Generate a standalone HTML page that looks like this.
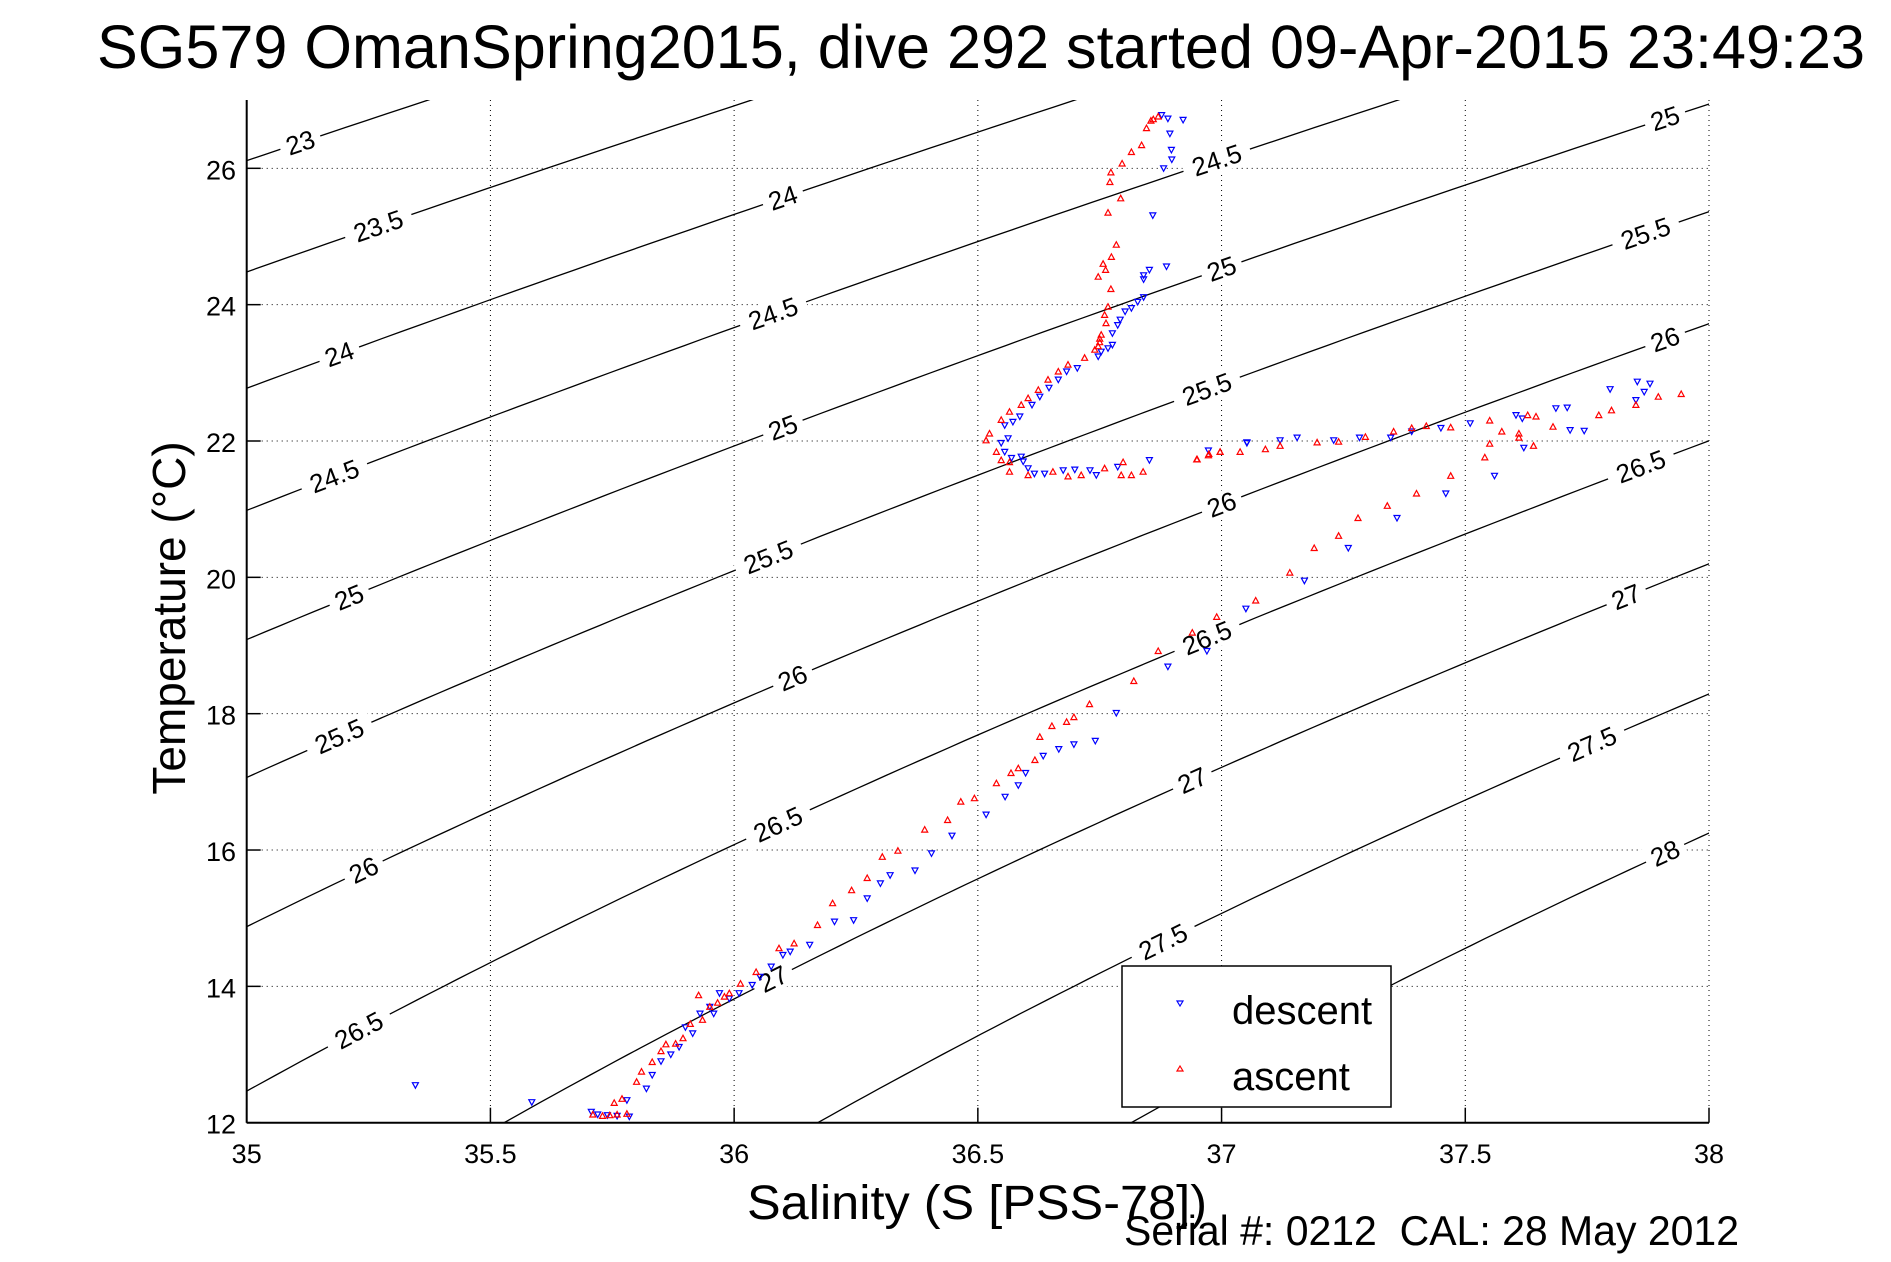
<!DOCTYPE html>
<html><head><meta charset="utf-8"><title>SG579 dive 292 T-S</title>
<style>
html,body{margin:0;padding:0;background:#fff;overflow:hidden;width:1891px;height:1262px;}
svg{display:block;font-family:"Liberation Sans",Arial,sans-serif;}
</style></head>
<body>
<svg id="chart" width="1891" height="1262" viewBox="0 0 1891 1262" xmlns="http://www.w3.org/2000/svg">
<rect x="0" y="0" width="1891" height="1262" fill="#fff"/>
<defs><clipPath id="plotclip"><rect x="246.7" y="100" width="1462.3" height="1022.7"/></clipPath></defs>
<text x="97" y="68" font-size="61" textLength="1768" lengthAdjust="spacingAndGlyphs">SG579 OmanSpring2015, dive 292 started 09-Apr-2015 23:49:23</text>
<g id="grid"></g>
<g id="contours" clip-path="url(#plotclip)"></g>
<g id="clabels"></g>
<g id="marks"></g>
<g id="axes"></g>
<text x="977" y="1219" font-size="48" textLength="460" lengthAdjust="spacingAndGlyphs" text-anchor="middle">Salinity (S [PSS-78])</text>
<text transform="translate(185,618) rotate(-90)" font-size="46" text-anchor="middle">Temperature (°C)</text>
<text x="1124" y="1245" font-size="42" textLength="615" lengthAdjust="spacingAndGlyphs" xml:space="preserve">Serial #: 0212  CAL: 28 May 2012</text>
<g>
<rect x="1122" y="966" width="269" height="141" fill="#fff" stroke="#000" stroke-width="1.5"/>
<polygon points="1177,1001 1183,1001 1180,1006" fill="none" stroke="#00f" stroke-width="1.2"/>
<text x="1232" y="1024" font-size="40">descent</text>
<polygon points="1177,1071 1183,1071 1180,1066" fill="none" stroke="#f00" stroke-width="1.2"/>
<text x="1232" y="1090" font-size="40">ascent</text>
</g>
</svg>
<script>
var NS="http://www.w3.org/2000/svg";
var xTicks=[35,35.5,36,36.5,37,37.5,38];
var xTickLabels=["35","35.5","36","36.5","37","37.5","38"];
var yTicks=[12,14,16,18,20,22,24,26];
var yTickLabels=["12","14","16","18","20","22","24","26"];
var sigmaLevels=[23,23.5,24,24.5,25,25.5,26,26.5,27,27.5,28];
var labelSigma=[23,23.5,24,24.5,25,25.5,26,26.5, 24,24.5,25,25.5,26,26.5,27, 24.5,25,25.5,26,26.5,27,27.5, 25,25.5,26,26.5,27,27.5,28];
var labelSal=[35.11,35.27,35.19,35.18,35.21,35.19,35.24,35.23, 36.10,36.08,36.10,36.07,36.12,36.09,36.08, 36.99,37.00,36.97,37.00,36.97,36.94,36.88, 37.91,37.87,37.91,37.86,37.83,37.76,37.91];
var descS=[35.346,35.585,35.707,35.78,35.832,35.887,35.915,35.958,35.99,36.01,36.037,36.053,36.076,36.10,36.115,36.155,36.206,36.245,36.273,36.30,36.32,36.371,36.405,36.447,36.517,36.556,36.583,36.598,36.634,36.666,36.697,36.741,36.784,36.89,36.97,37.05,37.17,37.26,37.36,37.46,37.56,37.62,
37.052,37.12,37.155,37.23,37.283,37.347,37.39,37.45,37.51,37.604,37.617,37.686,37.709,37.715,37.744,37.797,37.853,37.879,37.867,37.85,
36.877,36.890,36.921,36.894,36.897,36.898,36.881,36.859,36.887,36.852,36.840,36.840,36.840,36.828,36.815,36.802,36.792,36.787,36.776,36.776,36.767,36.753,36.747,36.704,36.682,36.665,36.646,36.627,36.611,36.586,36.572,36.555,36.562,36.548,36.555,36.569,36.589,36.593,36.603,36.616,36.637,36.675,36.699,36.730,36.743,36.787,36.852,36.973,37.052,35.72,35.74,35.76,35.785,35.82,35.85,35.87,35.90,35.93,35.95,35.97];
var descT=[12.55,12.30,12.16,12.33,12.70,13.11,13.31,13.60,13.82,13.90,14.02,14.14,14.29,14.46,14.51,14.61,14.95,14.97,15.29,15.51,15.63,15.70,15.95,16.21,16.52,16.78,16.95,17.13,17.38,17.48,17.55,17.60,18.01,18.69,18.92,19.54,19.95,20.43,20.87,21.23,21.49,21.90,
21.98,22.01,22.05,22.01,22.05,22.05,22.14,22.19,22.26,22.38,22.33,22.48,22.49,22.16,22.15,22.76,22.87,22.84,22.72,22.60,
26.78,26.73,26.71,26.51,26.27,26.13,26.00,25.31,24.56,24.51,24.43,24.37,24.11,24.04,23.95,23.90,23.78,23.70,23.58,23.41,23.36,23.31,23.24,23.07,23.02,22.90,22.78,22.65,22.53,22.36,22.28,22.23,22.04,21.97,21.84,21.75,21.77,21.70,21.60,21.52,21.52,21.57,21.58,21.57,21.50,21.62,21.72,21.86,21.97,12.12,12.11,12.10,12.09,12.5,12.9,13.0,13.4,13.6,13.7,13.9];
var ascS=[35.71,35.73,35.745,35.76,35.78,35.754,35.80,35.832,35.88,35.895,35.935,35.966,35.99,36.013,36.045,36.092,36.123,36.171,36.202,36.241,36.273,36.304,36.336,36.391,36.438,36.465,36.493,36.538,36.568,36.583,36.617,36.627,36.652,36.682,36.697,36.729,35.927,35.77,35.81,35.85,35.86,35.91,35.95,35.98,
36.82,36.87,36.94,36.99,37.07,37.14,37.19,37.24,37.28,37.34,37.40,37.47,37.54,37.61,
36.95,36.974,36.997,37.038,37.09,37.12,37.196,37.24,37.295,37.353,37.39,37.42,37.47,37.55,37.575,37.61,37.64,37.628,37.645,37.68,37.774,37.80,37.85,37.896,37.943,37.55,
36.87,36.846,36.836,36.815,36.796,36.773,36.771,36.793,36.767,36.784,36.774,36.757,36.762,36.747,36.773,36.767,36.760,36.763,36.753,36.747,36.740,36.719,36.685,36.665,36.644,36.624,36.603,36.589,36.565,36.548,36.524,36.517,36.538,36.548,36.565,36.565,36.603,36.654,36.685,36.712,36.760,36.798,36.794,36.815,36.839,36.949,36.973,36.997,36.86,36.855,36.75,36.75];
var ascT=[12.12,12.10,12.11,12.12,12.13,12.29,12.60,12.89,13.16,13.24,13.51,13.76,13.90,14.04,14.21,14.56,14.63,14.90,15.22,15.41,15.59,15.90,15.99,16.30,16.44,16.71,16.76,16.98,17.13,17.20,17.32,17.66,17.82,17.88,17.95,18.14,13.87,12.35,12.75,13.05,13.15,13.45,13.70,13.85,
18.48,18.92,19.19,19.42,19.66,20.07,20.43,20.61,20.87,21.05,21.23,21.49,21.76,22.11,
21.73,21.81,21.84,21.84,21.88,21.93,21.98,21.99,22.06,22.14,22.19,22.22,22.20,22.30,22.14,22.05,21.93,22.38,22.36,22.21,22.38,22.45,22.53,22.65,22.69,21.96,
26.76,26.59,26.34,26.24,26.07,25.94,25.80,25.56,25.35,24.88,24.70,24.60,24.51,24.41,24.23,23.97,23.85,23.73,23.56,23.39,23.34,23.22,23.12,23.02,22.90,22.75,22.63,22.53,22.43,22.31,22.11,22.01,21.84,21.72,21.69,21.55,21.50,21.55,21.48,21.50,21.60,21.69,21.50,21.50,21.55,21.73,21.79,21.84,26.72,26.70,23.45,23.50];

var X0=246.7,X1=1709,Y0=1122.7,Y1=100,SMIN=35,SMAX=38,TMIN=12,TMAX=12+(1122.7-100)/68.17;
function xs(s){return X0+(s-SMIN)/(SMAX-SMIN)*(X1-X0);}
function ys(t){return Y0-(t-TMIN)/(TMAX-TMIN)*(Y0-Y1);}
function sigma(S,T){
  var rw=999.842594+6.793952e-2*T-9.095290e-3*T*T+1.001685e-4*T*T*T-1.120083e-6*Math.pow(T,4)+6.536332e-9*Math.pow(T,5);
  var A=0.824493-4.0899e-3*T+7.6438e-5*T*T-8.2467e-7*T*T*T+5.3875e-9*Math.pow(T,4);
  var B=-5.72466e-3+1.0227e-4*T-1.6546e-6*T*T;
  return rw+A*S+B*Math.pow(S,1.5)+4.8314e-4*S*S-1000;
}
function solveS(sig,T){var S=35;for(var i=0;i<30;i++){var f=sigma(S,T)-sig;var d=(sigma(S+0.001,T)-sigma(S,T))/0.001;S-=f/d;}return S;}
function solveT(sig,S){var lo=0,hi=40;for(var i=0;i<60;i++){var m=(lo+hi)/2;if(sigma(S,m)>sig)lo=m;else hi=m;}return (lo+hi)/2;}
function mk(tag,attrs,parent){var e=document.createElementNS(NS,tag);for(var k in attrs)e.setAttribute(k,attrs[k]);parent.appendChild(e);return e;}

var grid=document.getElementById('grid');
xTicks.forEach(function(v,i){
  if(i===0)return;
  var l=mk('line',{x1:xs(v),x2:xs(v),y1:Y1,y2:Y0,stroke:'#000','stroke-width':1,'stroke-dasharray':'1,4'},grid);
  
  
});
yTicks.forEach(function(v,i){
  if(i===0)return;
  var l=mk('line',{x1:X0,x2:X1,y1:ys(v),y2:ys(v),stroke:'#000','stroke-width':1,'stroke-dasharray':'1,4'},grid);
  
  
});

var cg=document.getElementById('contours');
sigmaLevels.forEach(function(sg){
  var pts=[];
  for(var T=9;T<=28.5;T+=0.1){var S=solveS(sg,T);pts.push(xs(S).toFixed(1)+','+ys(T).toFixed(1));}
  var p=mk('polyline',{points:pts.join(' '),fill:'none',stroke:'#000','stroke-width':1.3},cg);
  
  
});

var lg=document.getElementById('clabels');
labelSigma.forEach(function(sg,i){
  var S=labelSal[i];var T=solveT(sg,S);
  var x=xs(S),y=ys(T);
  var x2=xs(S+0.02),y2=ys(solveT(sg,S+0.02));
  var ang=Math.atan2(y2-y,x2-x)*180/Math.PI;
  var txt=String(sg);
  var w=txt.length*14+14;
  var g=mk('g',{transform:'translate('+x.toFixed(1)+','+y.toFixed(1)+') rotate('+ang.toFixed(1)+')'},lg);
  
  
  mk('rect',{x:-w/2,y:-13,width:w,height:26,fill:'#fff'},g);
  var t=mk('text',{x:0,y:9,'font-size':26,'text-anchor':'middle'},g);
  t.textContent=txt;
});

var mg=document.getElementById('marks');
function tri(x,y,up,color){
  var pts=up?[[x-3,y+2.5],[x+3,y+2.5],[x,y-3]]:[[x-3,y-2.5],[x+3,y-2.5],[x,y+3]];
  return mk('polygon',{points:pts.map(function(p){return p[0].toFixed(1)+','+p[1].toFixed(1);}).join(' '),fill:'none',stroke:color,'stroke-width':1.2},mg);
}
descS.forEach(function(s,i){
  var m=tri(xs(s),ys(descT[i]),false,'#0000ff');
  
  
});
ascS.forEach(function(s,i){
  var m=tri(xs(s),ys(ascT[i]),true,'#ff0000');
  
  
});

var ax=document.getElementById('axes');
var la=mk('line',{x1:X0,x2:X0,y1:Y1,y2:Y0,stroke:'#000','stroke-width':2},ax);


var lb=mk('line',{x1:X0,x2:X1,y1:Y0,y2:Y0,stroke:'#000','stroke-width':2},ax);


xTicks.forEach(function(v,i){
  var x=xs(v);
  var tk=mk('line',{x1:x,x2:x,y1:Y0,y2:Y0-15,stroke:'#000','stroke-width':1.5},ax);
  
  
  var t=mk('text',{x:x,y:1163,'font-size':27,'text-anchor':'middle'},ax);
  t.textContent=xTickLabels[i];
  
  
});
yTicks.forEach(function(v,i){
  var y=ys(v);
  var tk=mk('line',{x1:X0,x2:X0+14,y1:y,y2:y,stroke:'#000','stroke-width':1.5},ax);
  
  
  var t=mk('text',{x:236,y:y+11,'font-size':27,'text-anchor':'end'},ax);
  t.textContent=yTickLabels[i];
  
  
});
</script>
</body></html>
